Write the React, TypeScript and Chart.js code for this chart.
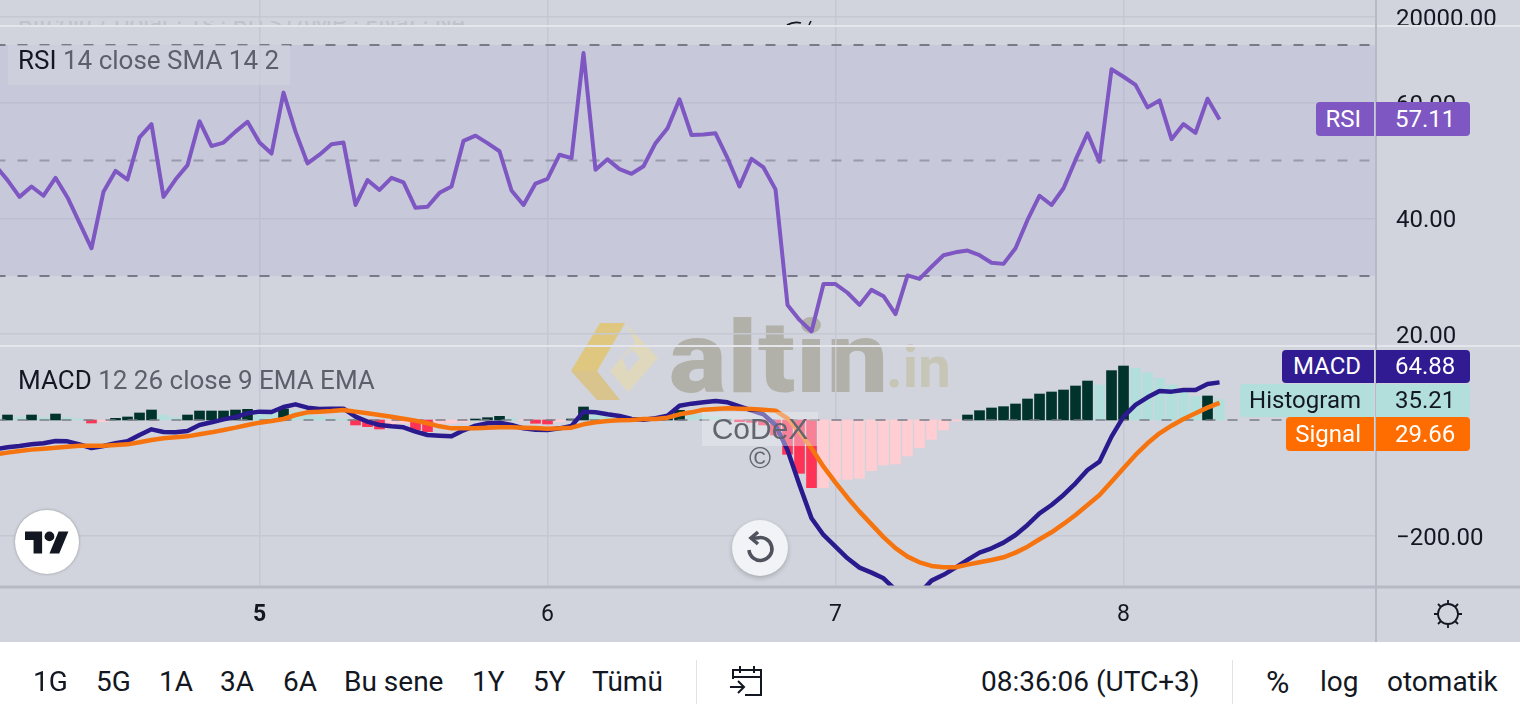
import React, { useEffect, useRef } from "react";
import { Chart, registerables } from "chart.js";

Chart.register(...registerables);

// hours since the start of day 5
const hours = [
  -22, -21, -20, -19, -18, -17, -16, -15, -14, -13, -12, -11, -10, -9, -8, -7, -6, -5, -4, -3, -2, -1,
  0, 1, 2, 3, 4, 5, 6, 7, 8, 9, 10, 11, 12, 13, 14, 15, 16, 17, 18, 19, 20, 21, 22, 23,
  24, 25, 26, 27, 28, 29, 30, 31, 32, 33, 34, 35, 36, 37, 38, 39, 40, 41, 42, 43, 44, 45, 46, 47,
  48, 49, 50, 51, 52, 53, 54, 55, 56, 57, 58, 59, 60, 61, 62, 63, 64, 65, 66, 67, 68, 69, 70, 71,
  72, 73, 74, 75, 76, 77, 78, 79, 80,
];
const rsiValues = [
  49.1, 46.6, 43.7, 45.5, 43.9, 47.0, 43.6, 39.2, 34.8, 44.6, 48.2, 46.7, 54.0, 56.3, 43.7, 46.7, 49.2, 56.8, 52.5, 53.1, 55.0, 56.7,
  53.1, 51.2, 61.75, 55.0, 49.5, 51.0, 52.8, 53.1, 42.3, 46.6, 44.9, 47.0, 46.2, 41.8, 42.0, 44.4, 45.5, 53.4, 54.3, 53.0, 51.6, 44.8, 42.3, 46.0,
  46.8, 51.0, 50.4, 68.6, 48.4, 50.2, 48.5, 47.7, 49.0, 53.0, 55.6, 60.6, 54.4, 54.5, 54.7, 50.4, 45.5, 50.3, 48.8, 45.0, 25.0, 22.4, 20.4, 28.6,
  28.6, 27.1, 25.0, 27.6, 26.5, 23.4, 30.1, 29.5, 31.6, 33.6, 34.1, 34.4, 33.6, 32.3, 32.1, 34.8, 39.7, 43.9, 42.3, 45.2, 50.1, 54.7, 49.8, 65.8,
  64.5, 63.1, 59.2, 60.4, 53.7, 56.3, 54.8, 60.7, 57.11,
];
const macdValues = [
  -50.6, -47.1, -44.8, -42, -40.2, -36.2, -36.8, -42, -48.3, -44.8, -40.2, -36.8, -25.9, -16.1, -20.7, -21.3, -19, -8.6, -4, 1.1, 5.2, 11.5,
  14.4, 13.8, 22.4, 27, 21.3, 19, 19.5, 19.5, 5.7, -2.9, -8.6, -10.9, -12.6, -20.1, -25.9, -27, -28.2, -17.8, -9.8, -5.7, -4.6, -8.6, -14.4, -16.7,
  -17.2, -14.4, -10.3, 14.4, 13.2, 9.8, 6.9, 1.7, 0.6, 2.9, 7.5, 24.7, 28.2, 30.5, 32.8, 30.5, 23.6, 16.7, 9.8, -8.6, -51.7, -112, -169.5, -198.3,
  -218.4, -238.5, -254.6, -263.2, -273, -293, -299, -299, -277, -267, -254.6, -241.4, -228.7, -221.3, -211.5, -198.3, -181, -160.9, -146.6, -129.3, -109.2, -86.2, -71.8, -28.7,
  5.7, 25.9, 39.1, 50, 48.9, 51.7, 51.7, 62, 64.88,
];
const signalValues = [
  -59.2, -56.3, -53.4, -51.1, -49.4, -47.7, -46, -44.3, -44.3, -44.3, -43.1, -42, -38.5, -34.5, -31.6, -29.9, -28.2, -24.7, -21.3, -17.2, -13.2, -8.6,
  -4.6, -1.7, 1.7, 8.6, 13.2, 14.4, 15.5, 17.2, 14.4, 11.5, 8.6, 5.7, 2.3, -1.1, -5.7, -10.9, -14.4, -14.4, -14.4, -13.2, -12.6, -12.6, -13.2, -13.8,
  -14.9, -14.4, -13.2, -7.5, -4, -1.7, -0.6, 0, 1.7, 1.7, 4, 9.8, 13.2, 17.8, 19, 20.1, 19.5, 19, 17.8, 16.1, 2.9, -20.1, -48.9, -80.5,
  -108, -134, -158, -180, -202, -221, -235.6, -245.4, -251.7, -254, -254, -249.4, -245.4, -241.4, -236.8, -228.7, -218.4, -205.7, -193.7, -179.3, -163.8, -146.6, -129.3, -106.3,
  -83.3, -60.3, -40.2, -23, -9.8, 1.7, 11.5, 21.3, 29.66,
];
const histValues = [
  2.9, 8.6, 5.2, 8.6, 4, 10.3, 4, 1.7, -5.2, -2.9, 2.9, 5.2, 12.1, 17.2, 8.6, 4, 8.6, 15.5, 15.5, 15.5, 17.2, 18.4,
  16.7, 11.5, 19, 14.4, 8.6, 5.7, 2.9, 1.7, -8.6, -11.5, -15.5, -8.6, -5.7, -17.2, -20.1, -5.7, -5.7, -4, 1.7, 4, 6.3, 2.9, -1.1, -5.7,
  -6.9, -2.9, 1.7, 22.4, 8.6, 5.7, 2.9, -0.5, 0.6, 2.9, 4, 16.7, 11.5, 8.6, 5.7, 1.7, -2.9, -4, -8.6, -25.9, -59.2, -92, -116.7, -116.7,
  -102.3, -102.3, -100.6, -87.4, -77.6, -75.9, -62, -47.7, -33.3, -17.2, -1.7, 8.6, 16.1, 20.7, 23, 27.6, 36.2, 44.8, 48.3, 51.7, 58.6, 67.2, 60.3, 85.1,
  93.1, 89.1, 81.6, 71.8, 60.3, 48.9, 40.2, 41.4, 35.21,
];
// d = rising above zero, t = falling above zero, r = falling below zero, p = rising below zero
const histKinds = (
  "t d t d t d t t r p d d d d t t d d d d d d " +
  "t t d t t t t t r r r p p r r p p p d d d t p r " +
  "r p d d t t t p d d d d t t t t r r r r r r r p " +
  "p p p p p p p p p p p d d d d d d d d d d d t d " +
  "d t t t t t t d t"
).trim().split(" ");
const histColors: Record<string, string> = { d: "#00332c", t: "#b2dfdb", r: "#ff3355", p: "#ffcdd2" };

const bandEnds = [-22, 94];
const rsiUpper = [70, 70];
const rsiLower = [30, 30];
const rsiMiddle = [50, 50];
const macdZero = [0, 0];

const dayTicks = [0, 24, 48, 72];
const dayLabels = ["5", "6", "7", "8"];
const priceTicks = [20000];
const rsiTicks = [60, 40, 20];
const macdTicks = [-200];

const rangeButtons = [
  ["1G", 33], ["5G", 96], ["1A", 159], ["3A", 220], ["6A", 283], ["Bu sene", 344], ["1Y", 472], ["5Y", 533], ["Tümü", 592],
] as [string, number][];

const INK = "#131722";
const MUTED = "#5d606b";
const FONT = "Roboto, sans-serif";

const pts = (xs: number[], ys: number[]) => xs.map((x, i) => ({ x, y: ys[i] }));

const noPadding = (s: any) => {
  s.paddingTop = 0;
  s.paddingBottom = 0;
  s.paddingLeft = 0;
  s.paddingRight = 0;
};

const frame = {
  id: "frame",
  afterDraw(chart: any) {
    const { ctx, chartArea, width, height, scales } = chart;
    ctx.save();
    ctx.strokeStyle = "#e4e6ec";
    ctx.lineWidth = 2;
    [scales.yRsi.top, scales.yRsi.bottom].forEach((y: number) => {
      ctx.beginPath();
      ctx.moveTo(0, y);
      ctx.lineTo(width, y);
      ctx.stroke();
    });
    ctx.strokeStyle = "#b7bac4";
    ctx.beginPath();
    ctx.moveTo(chartArea.right, 0);
    ctx.lineTo(chartArea.right, height);
    ctx.stroke();
    ctx.lineWidth = 3;
    ctx.beginPath();
    ctx.moveTo(0, chartArea.bottom);
    ctx.lineTo(width, chartArea.bottom);
    ctx.stroke();
    ctx.restore();
  },
};

function yScale(stackWeight: number, min: number, max: number, values: number[], fmt: (v: number) => string) {
  return {
    type: "linear",
    position: "right",
    stack: "panes",
    stackWeight,
    min,
    max,
    border: { display: false },
    grid: { color: "#c5c8d2", lineWidth: 1.5, drawTicks: false },
    afterBuildTicks: (s: any) => {
      s.ticks = values.map((value) => ({ value }));
    },
    afterFit: (s: any) => {
      s.width = 144;
      noPadding(s);
    },
    ticks: {
      autoSkip: false,
      padding: 20,
      labelOffset: 3,
      color: INK,
      font: { family: FONT, size: 24 },
      callback: (v: number) => fmt(v),
    },
  };
}

function Tag(p: { left: number; top: number; height: number; split: number; right: number; bg: string; color: string; label: string; value: string }) {
  const base: React.CSSProperties = {
    position: "absolute", top: p.top, height: p.height, background: p.bg, color: p.color,
    font: `24px/${p.height}px ${FONT}`, boxSizing: "border-box",
  };
  return (
    <>
      <div style={{ ...base, left: p.left, width: p.split - p.left - 1, textAlign: "right", paddingRight: 13, borderRadius: "4px 0 0 4px", whiteSpace: "nowrap" }}>{p.label}</div>
      <div style={{ ...base, left: p.split + 1, width: p.right - p.split - 1, paddingLeft: 19, borderRadius: "0 4px 4px 0" }}>{p.value}</div>
    </>
  );
}

function Txt(p: { x: number; y: number; size?: number; color?: string; children: React.ReactNode; family?: string }) {
  return (
    <div style={{ position: "absolute", left: p.x, top: p.y, whiteSpace: "nowrap", font: `${p.size || 28}px/34px ${p.family || FONT}`, color: p.color || INK }}>
      {p.children}
    </div>
  );
}

export default function App() {
  const ref = useRef<HTMLCanvasElement>(null);
  useEffect(() => {
    const chart = new Chart(ref.current as HTMLCanvasElement, {
      type: "line",
      data: {
        datasets: [
          { type: "line", yAxisID: "yRsi", data: pts(bandEnds, rsiUpper), borderColor: "#787b86", borderWidth: 2, borderDash: [10, 12], pointRadius: 0, fill: "+1", backgroundColor: "rgba(120,110,220,0.1)", order: 5 },
          { type: "line", yAxisID: "yRsi", data: pts(bandEnds, rsiLower), borderColor: "#787b86", borderWidth: 2, borderDash: [10, 12], pointRadius: 0, order: 5 },
          { type: "line", yAxisID: "yRsi", data: pts(bandEnds, rsiMiddle), borderColor: "rgba(120,123,134,0.6)", borderWidth: 2, borderDash: [10, 12], pointRadius: 0, order: 5 },
          { type: "line", yAxisID: "yRsi", label: "RSI", data: pts(hours, rsiValues), borderColor: "#7e57c2", borderWidth: 4, borderJoinStyle: "round", pointRadius: 0, tension: 0, order: 1 },
          { type: "bar", yAxisID: "yMacd", label: "Histogram", data: pts(hours, histValues), backgroundColor: histKinds.map((k) => histColors[k]), barThickness: 10, order: 4 },
          { type: "line", yAxisID: "yMacd", data: pts(bandEnds, macdZero), borderColor: "rgba(120,123,134,0.75)", borderWidth: 2, borderDash: [10, 12], pointRadius: 0, order: 3 },
          { type: "line", yAxisID: "yMacd", label: "MACD", data: pts(hours, macdValues), borderColor: "#2a1a8e", borderWidth: 4.5, borderJoinStyle: "round", pointRadius: 0, order: 2 },
          { type: "line", yAxisID: "yMacd", label: "Signal", data: pts(hours, signalValues), borderColor: "#f5740f", borderWidth: 4.5, borderJoinStyle: "round", pointRadius: 0, order: 1 },
        ] as any,
      },
      options: {
        responsive: false,
        animation: false,
        events: [],
        layout: { padding: 0 },
        plugins: { legend: { display: false }, tooltip: { enabled: false } },
        scales: {
          x: {
            type: "linear",
            min: -21.625,
            max: 93.04,
            offset: false,
            border: { display: false },
            grid: { color: "#c5c8d2", lineWidth: 1.5, drawTicks: false, offset: false },
            afterBuildTicks: (s: any) => {
              s.ticks = dayTicks.map((value) => ({ value }));
            },
            afterFit: (s: any) => {
              s.height = 55;
              noPadding(s);
            },
            ticks: {
              autoSkip: false,
              maxRotation: 0,
              padding: 14,
              color: INK,
              font: (c: any) => ({ family: FONT, size: 23, weight: c.tick && c.tick.value === dayTicks[0] ? "bold" : "normal" }),
              callback: (v: number) => dayLabels[dayTicks.indexOf(v)],
            },
          },
          yPrice: yScale(26, 19470.6, 21000, priceTicks, (v) => v.toFixed(2)),
          yRsi: yScale(320, 17.88, 73.29, rsiTicks, (v) => v.toFixed(2)),
          yMacd: yScale(241, -288, 127.6, macdTicks, (v) => v.toFixed(2).replace("-", "\u2212")),
        } as any,
      },
      plugins: [frame],
    } as any);
    return () => chart.destroy();
  }, []);

  return (
    <div style={{ position: "fixed", left: 0, top: 0, width: 1520, height: 720, overflow: "hidden", background: "#fff" }}>
      <div style={{ position: "absolute", left: 0, top: 0, width: 1520, height: 642, background: "#d1d4dc" }} />
      {/* watermark */}
      <svg style={{ position: "absolute", left: 560, top: 315 }} width="110" height="95" viewBox="560 315 110 95">
        <polygon points="571,371 600,323 625,323 597,371" fill="#e0c77f" />
        <polygon points="571,371 597,371 620,400 597,400" fill="#d8c48c" />
        <polygon points="625,323 658,358 628,392 610,371 635,342" fill="#e0d8bd" />
        <polygon points="622,358 632,349 640,358 628,372" fill="#d1d4dc" />
      </svg>
      <div style={{ position: "absolute", left: 669, top: 295, font: `900 108px/120px ${FONT}`, color: "#b1b1a9", letterSpacing: 1, transform: "scaleY(0.92)", transformOrigin: "0 97px" }}>altin</div>
      <div style={{ position: "absolute", left: 886, top: 335, font: `700 58px/64px ${FONT}`, color: "#c7c5b6" }}>.in</div>
      {/* ghost of the price pane legend */}
      <div style={{ position: "absolute", left: 18, top: 21, width: 620, height: 4, overflow: "hidden", color: "#bfc2cb", whiteSpace: "nowrap" }}>
        <div style={{ marginTop: -12, font: `24px/28px ${FONT}` }}>Bitcoin / Dolar · 1s · BITSTAMP · Fiyat · Ne</div>
      </div>
      <svg style={{ position: "absolute", left: 785, top: 19 }} width="30" height="8">
        <path d="M2 6 Q9 2 16 4 M24 6 L26 2" stroke="#131722" strokeWidth="1.6" fill="none" />
      </svg>

      <canvas ref={ref} width={1520} height={642} style={{ position: "absolute", left: 0, top: 0, display: "block" }} />

      {/* pane legends */}
      <div style={{ position: "absolute", left: 8, top: 45, width: 282, height: 40, background: "rgba(209,212,220,0.6)", font: `26px/30px ${FONT}`, color: MUTED, paddingLeft: 10, boxSizing: "border-box", whiteSpace: "nowrap" }}>
        <span style={{ color: INK }}>RSI</span> 14 close SMA 14 2
      </div>
      <div style={{ position: "absolute", left: 18, top: 365, font: `26px/30px ${FONT}`, color: MUTED, whiteSpace: "nowrap" }}>
        <span style={{ color: INK }}>MACD</span> 12 26 close 9 EMA EMA
      </div>

      {/* last value tags */}
      <Tag left={1316} top={102} height={34} split={1375} right={1470} bg="#7e57c2" color="#fff" label="RSI" value="57.11" />
      <Tag left={1282} top={350} height={33} split={1375} right={1470} bg="#311b92" color="#fff" label="MACD" value="64.88" />
      <Tag left={1240} top={384} height={33} split={1375} right={1470} bg="#b2dfdb" color={INK} label="Histogram" value="35.21" />
      <Tag left={1286} top={417} height={34} split={1375} right={1470} bg="#ff6d00" color="#fff" label="Signal" value="29.66" />

      {/* author note */}
      <div style={{ position: "absolute", left: 702, top: 412, width: 116, height: 34, background: "rgba(236,238,244,0.42)", textAlign: "center", font: "30px/34px 'Liberation Sans', sans-serif", color: "#62656f" }}>CoDeX</div>
      <div style={{ position: "absolute", left: 702, top: 441, width: 116, textAlign: "center", font: "30px/34px 'Liberation Sans', sans-serif", color: "#62656f" }}>©</div>

      {/* TradingView badge */}
      <div style={{ position: "absolute", left: 15, top: 510, width: 64, height: 64, borderRadius: 32, background: "#fff", boxShadow: "0 0 3px rgba(0,0,0,0.3)" }} />
      <svg style={{ position: "absolute", left: 25, top: 531 }} width="44" height="23" viewBox="0 4 36 18">
        <path d="M14 22H7V11H0V4h14v18zM28 22h-8l7.5-18h8L28 22z" fill="#131722" />
        <circle cx="20" cy="8" r="4" fill="#131722" />
      </svg>

      {/* reset button */}
      <div style={{ position: "absolute", left: 732, top: 520, width: 56, height: 56, borderRadius: 28, background: "#f1f3f6", boxShadow: "0 2px 5px rgba(0,0,0,0.2)" }} />
      <svg style={{ position: "absolute", left: 742, top: 530 }} width="36" height="36" viewBox="0 0 36 36">
        <path d="M7 20 A11.5 11.5 0 1 0 15 8 L11 8" stroke="#50535e" strokeWidth="3.6" fill="none" />
        <path d="M16 2 L9 8 L16 14" stroke="#50535e" strokeWidth="3.6" fill="none" />
      </svg>

      {/* theme icon */}
      <svg style={{ position: "absolute", left: 1432, top: 598 }} width="32" height="32" viewBox="0 0 32 32">
        <circle cx="16" cy="16" r="10" stroke={INK} strokeWidth="1.8" fill="none" />
        <path d="M16 2v4M16 26v4M2 16h4M26 16h4M6 6l3 3M26 6l-3 3M6 26l3-3M26 26l-3-3" stroke={INK} strokeWidth="1.8" />
      </svg>

      {/* toolbar */}
      {rangeButtons.map(([label, x]) => (
        <Txt key={label} x={x} y={665}>{label}</Txt>
      ))}
      <div style={{ position: "absolute", left: 696, top: 660, width: 1, height: 44, background: "#e0e3eb" }} />
      <svg style={{ position: "absolute", left: 728, top: 664 }} width="36" height="34" viewBox="0 0 36 34">
        <path d="M5 15 V6 H33 V31 H17 M5 13 H33 M12 2 V9 M26 2 V9 M2 23 H15 M10 17 L16 23 L10 29" stroke={INK} strokeWidth="2" fill="none" />
      </svg>
      <Txt x={981} y={665}>08:36:06 (UTC+3)</Txt>
      <div style={{ position: "absolute", left: 1232, top: 660, width: 1, height: 44, background: "#e0e3eb" }} />
      <Txt x={1266} y={665} size={32}>%</Txt>
      <Txt x={1320} y={665}>log</Txt>
      <Txt x={1387} y={665}>otomatik</Txt>
    </div>
  );
}
